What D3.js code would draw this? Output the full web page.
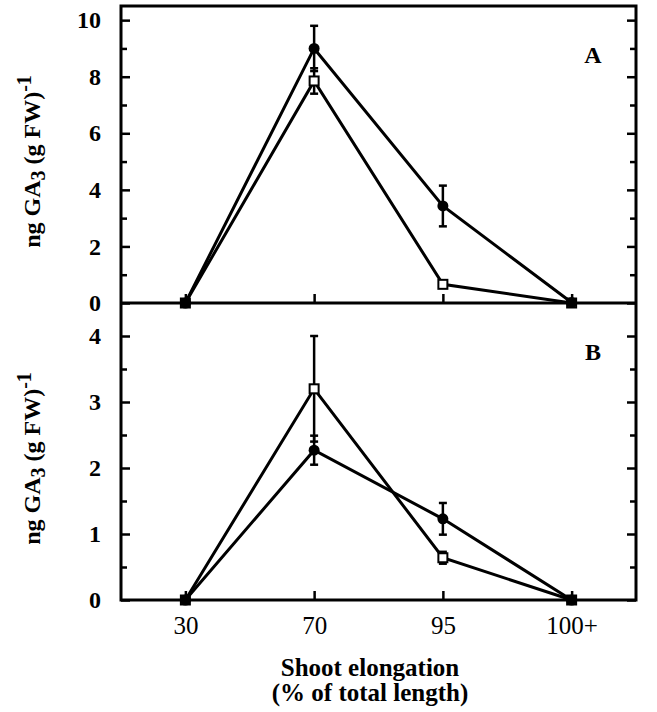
<!DOCTYPE html>
<html>
<head>
<meta charset="utf-8">
<script src="https://cdn.jsdelivr.net/npm/d3@7"></script>
<style>
  body { margin: 0; background: #fff; }
  text { font-family: "Liberation Serif", serif; fill: #000; }
</style>
</head>
<body>
<svg id="chart" width="657" height="712"></svg>
<script>
// categories on the x axis
const categories = ["30", "70", "95", "100+"];

// panel A (top)
const filledA = [0, 9.0, 3.43, 0.02];
const filledAErr = [0, 0.8, 0.72, 0.1];
const openA = [0, 7.85, 0.66, 0];
const openAErr = [0, 0.45, 0, 0];
const ticksA = [0, 2, 4, 6, 8, 10];
const minorA = [1, 3, 5, 7, 9];

// panel B (bottom)
const filledB = [0, 2.27, 1.23, 0];
const filledBErr = [0, 0.22, 0.24, 0.05];
const openB = [0, 3.2, 0.64, 0];
const openBErr = [0, 0.8, 0.09, 0];
const ticksB = [0, 1, 2, 3, 4];
const minorB = [0.5, 1.5, 2.5, 3.5];

var svg = d3.select("#chart");
var plotLeft = 121, plotRight = 636, plotTop = 6, plotMid = 303, plotBottom = 600;

var x = d3.scalePoint().domain(categories).range([plotLeft, plotRight]).padding(0.5);
var yA = d3.scaleLinear().domain([0, 10.5]).range([plotMid, plotTop]);
var yB = d3.scaleLinear().domain([0, 4.5]).range([plotBottom, plotMid]);

function panel(y, ticks, minor, filled, filledErr, open, openErr, letter, showX) {
  // left axis, ticks pointing inside
  svg.append("g")
    .attr("transform", `translate(${plotLeft},0)`)
    .call(d3.axisLeft(y).tickValues(ticks).tickSizeInner(-9).tickSizeOuter(0).tickPadding(20).tickFormat(d3.format("d")))
    .call(g => g.select(".domain").remove())
    .call(g => g.selectAll("line").attr("stroke-width", 2.5))
    .call(g => g.selectAll("text").attr("font-size", 24).attr("font-weight", "bold").attr("font-family", "Liberation Serif"));
  svg.append("g")
    .attr("transform", `translate(${plotLeft},0)`)
    .call(d3.axisLeft(y).tickValues(minor).tickSizeInner(-6).tickSizeOuter(0).tickFormat(""))
    .call(g => g.select(".domain").remove())
    .call(g => g.selectAll("line").attr("stroke-width", 2.5));
  // right axis
  svg.append("g")
    .attr("transform", `translate(${plotRight},0)`)
    .call(d3.axisRight(y).tickValues(ticks).tickSizeInner(-9).tickSizeOuter(0).tickFormat(""))
    .call(g => g.select(".domain").remove())
    .call(g => g.selectAll("line").attr("stroke-width", 2.5));
  svg.append("g")
    .attr("transform", `translate(${plotRight},0)`)
    .call(d3.axisRight(y).tickValues(minor).tickSizeInner(-6).tickSizeOuter(0).tickFormat(""))
    .call(g => g.select(".domain").remove())
    .call(g => g.selectAll("line").attr("stroke-width", 2.5));
  // bottom x ticks
  var xa = svg.append("g")
    .attr("transform", `translate(0,${y(0)})`)
    .call(d3.axisBottom(x).tickSizeInner(-9).tickSizeOuter(0).tickPadding(16))
    .call(g => g.select(".domain").remove())
    .call(g => g.selectAll("line").attr("stroke-width", 2.5))
    .call(g => g.selectAll("text").attr("font-size", 25).attr("font-family", "Liberation Serif"));
  if (!showX) xa.selectAll("text").remove();

  var line = d3.line().x((d, i) => x(categories[i])).y(d => y(d));
  svg.append("path").datum(filled).attr("d", line)
    .attr("fill", "none").attr("stroke", "#000").attr("stroke-width", 3);
  svg.append("path").datum(open).attr("d", line)
    .attr("fill", "none").attr("stroke", "#000").attr("stroke-width", 3);

  // error bars
  function errBars(vals, errs) {
    var data = vals.map((v, i) => ({ c: categories[i], v: v, e: errs[i] })).filter(d => d.e > 0);
    var g = svg.append("g").attr("stroke", "#000").attr("stroke-width", 2.5);
    g.selectAll(".v").data(data).join("line")
      .attr("x1", d => x(d.c)).attr("x2", d => x(d.c))
      .attr("y1", d => y(d.v - d.e)).attr("y2", d => y(d.v + d.e));
    g.selectAll(".t").data(data).join("line")
      .attr("x1", d => x(d.c) - 4).attr("x2", d => x(d.c) + 4)
      .attr("y1", d => y(d.v + d.e)).attr("y2", d => y(d.v + d.e));
    g.selectAll(".b").data(data).join("line")
      .attr("x1", d => x(d.c) - 4).attr("x2", d => x(d.c) + 4)
      .attr("y1", d => y(d.v - d.e)).attr("y2", d => y(d.v - d.e));
  }
  errBars(filled, filledErr);
  errBars(open, openErr);

  // markers
  svg.append("g").selectAll("rect").data(open).join("rect")
    .attr("x", (d, i) => x(categories[i]) - 4.5).attr("y", d => y(d) - 4.5)
    .attr("width", 9).attr("height", 9)
    .attr("fill", "#fff").attr("stroke", "#000").attr("stroke-width", 2);
  svg.append("g").selectAll("circle").data(filled).join("circle")
    .attr("cx", (d, i) => x(categories[i])).attr("cy", d => y(d))
    .attr("r", 5.5).attr("fill", "#000");

  svg.append("text")
    .attr("x", 593).attr("y", y.range()[1] + 57)
    .attr("text-anchor", "middle").attr("font-size", 24).attr("font-weight", "bold")
    .text(letter);

  // y label
  var cy = (y.range()[0] + y.range()[1]) / 2 + 7;
  var lab = svg.append("text")
    .attr("transform", `translate(40,${cy}) rotate(-90)`)
    .attr("text-anchor", "middle").attr("font-size", 24).attr("font-weight", "bold");
  lab.append("tspan").text("ng GA");
  lab.append("tspan").attr("dy", 5).attr("font-size", 20).text("3");
  lab.append("tspan").attr("dy", -5).text(" (g FW)");
  lab.append("tspan").attr("dy", -9).attr("font-size", 20).text("-1");
}

panel(yA, ticksA, minorA, filledA, filledAErr, openA, openAErr, "A", false);
panel(yB, ticksB, minorB, filledB, filledBErr, openB, openBErr, "B", true);

// frame
svg.append("rect")
  .attr("x", plotLeft).attr("y", plotTop).attr("width", plotRight - plotLeft).attr("height", plotBottom - plotTop)
  .attr("fill", "none").attr("stroke", "#000").attr("stroke-width", 3);
svg.append("line")
  .attr("x1", plotLeft).attr("x2", plotRight).attr("y1", plotMid).attr("y2", plotMid)
  .attr("stroke", "#000").attr("stroke-width", 3);

// x title
svg.append("text").attr("x", 370).attr("y", 676).attr("text-anchor", "middle")
  .attr("font-size", 25).attr("font-weight", "bold").text("Shoot elongation");
svg.append("text").attr("x", 370).attr("y", 701).attr("text-anchor", "middle")
  .attr("font-size", 25).attr("font-weight", "bold").text("(% of total length)");
</script>
</body>
</html>
